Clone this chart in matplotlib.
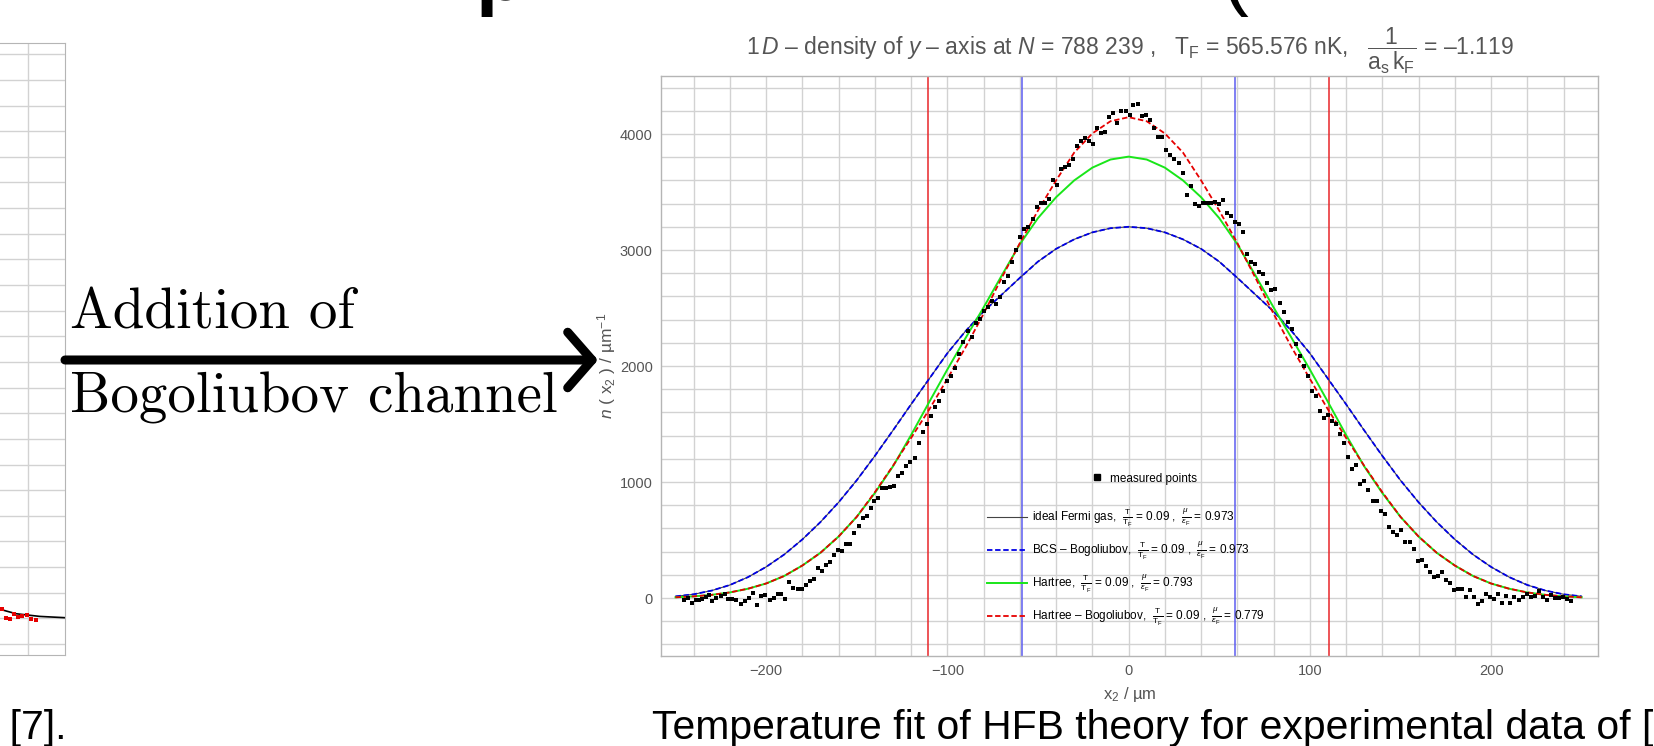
import matplotlib.pyplot as plt
from matplotlib.lines import Line2D
from matplotlib.patches import FancyArrowPatch

plt.rcParams['font.family'] = ['Liberation Sans', 'DejaVu Sans']
plt.rcParams['mathtext.fontset'] = 'custom'
plt.rcParams['mathtext.rm'] = 'Liberation Sans'
plt.rcParams['mathtext.it'] = 'Liberation Sans:italic'
plt.rcParams['mathtext.bf'] = 'Liberation Sans:bold'

x_fit = list(range(-250, 260, 10))
n_bcs = [14, 32, 64, 112, 180, 268, 375, 505, 655, 825, 1015, 1225, 1445, 1670, 1890, 2110, 2300, 2470, 2615, 2760,
         2900, 3010, 3092, 3152, 3188, 3200, 3188, 3152, 3092, 3010, 2900, 2760, 2615, 2470, 2300, 2110, 1890,
         1670, 1445, 1225, 1015, 825, 655, 505, 375, 268, 180, 112, 64, 32, 14]
n_hartree = [6, 14, 27, 48, 80, 125, 190, 280, 390, 530, 700, 905, 1135, 1405, 1690, 1970, 2240, 2505, 2780, 3050,
             3275, 3455, 3600, 3710, 3780, 3805, 3780, 3710, 3600, 3455, 3275, 3050, 2780, 2505, 2240, 1970, 1690,
             1405, 1135, 905, 700, 530, 390, 280, 190, 125, 80, 48, 27, 14, 6]
n_hb = [6, 14, 27, 48, 80, 125, 190, 280, 390, 530, 700, 912, 1140, 1380, 1625, 1890, 2160, 2450, 2760, 3060,
        3340, 3600, 3840, 4005, 4110, 4145, 4110, 4005, 3840, 3600, 3340, 3060, 2760, 2450, 2160, 1890, 1625,
        1380, 1140, 912, 700, 530, 390, 280, 190, 125, 80, 48, 27, 14, 6]

# measured density
x_meas = [-245.3, -243.1, -240.7, -238.9, -237.0, -235.4, -233.4, -231.7, -229.9, -227.5, -225.1, -222.9, -221.0,
          -218.8, -216.5, -214.1, -211.9, -209.7, -207.5, -205.1, -202.9, -200.5, -198.1, -195.9, -193.7, -191.6,
          -189.4, -187.2, -185.0, -182.6, -180.4, -178.2, -176.0, -173.8, -171.6, -169.2, -167.0, -164.8, -162.6,
          -160.4, -158.2, -156.0, -153.8, -151.6, -149.0, -146.8, -144.6, -142.4, -140.2, -138.0, -135.8, -133.6,
          -131.4, -129.4, -127.1, -124.9, -122.7, -120.5,
          -117.8, -115.6, -113.4, -111.2, -109.0, -106.8, -104.4, -102.2, -100.0, -97.8, -95.6, -93.4, -91.2,
          -88.8, -86.6, -84.4, -82.2, -79.9, -77.7, -75.5, -73.3, -71.0, -68.7, -66.5, -64.1, -61.9, -59.8, -57.5,
          -55.3, -53.0, -50.7, -48.5, -46.3, -44.1, -41.9, -39.7, -37.5, -35.3, -32.9, -30.7, -28.5, -26.3, -24.1,
          -21.9, -19.5, -17.3, -15.1, -12.9, -10.7, -8.5, -6.3, -4.1, -1.7, 0.5, 2.7, 5.3,
          7.5, 9.7, 11.9, 14.1, 16.5, 18.7, 20.9, 23.1, 25.3, 27.6, 29.8, 32.0, 34.2, 36.6, 38.8, 41.0, 43.2, 45.4,
          47.6, 49.8, 52.2, 54.4, 56.6, 58.8, 61.0, 63.2, 65.4, 67.6, 69.8, 72.2, 74.4, 76.6, 78.8, 81.0, 83.4,
          85.6, 87.8, 90.0, 92.2, 94.4, 96.7, 98.9, 101.1, 103.3, 105.7, 107.9, 110.1, 112.5, 114.7, 116.9, 119.1,
          121.3, 123.5, 125.7, 127.9, 130.1, 132.3,
          134.7, 136.9, 139.1, 141.3, 143.7, 145.9, 148.3, 150.5, 152.7, 155.1, 157.3, 159.5, 161.7, 163.9, 166.1,
          168.3, 170.5, 172.7, 174.9, 177.1, 179.5, 181.7, 183.9, 186.3, 188.5, 190.7, 192.9, 195.1, 197.3, 199.5,
          201.8, 204.0, 206.2, 208.4, 210.6, 212.8, 215.3, 217.6, 219.8, 222.0, 224.2, 226.4, 228.6, 230.8, 232.9,
          235.2, 237.4, 239.6, 241.8, 244.2]
n_meas = [-14, 0, -46, -20, -14, -9, 9, 29, -29, -3, 14, 35, -6,
          -9, -14, -49, -23, 0, 43, -58, 20, 26, -20, 0, 35, 38,
          -6, 136, 84, 81, 78, 110, 147, 165, 260, 237, 283, 309, 369,
          418, 401, 462, 462, 557, 618, 693, 707, 773, 834, 863, 944, 949,
          961, 967, 1056, 1076, 1134, 1169,
          1207, 1334, 1432, 1501, 1571, 1643, 1701, 1781, 1868, 1911, 1983, 2102, 2211,
          2298, 2249, 2373, 2405, 2477, 2506, 2564, 2535, 2598, 2725, 2777, 2898, 2999, 3112, 3178,
          3196, 3265, 3369, 3403, 3409, 3441, 3602, 3562, 3701, 3718, 3732, 3787, 3897, 3937, 3963,
          3943, 3914, 4053, 4006, 4018, 4145, 4180, 4099, 4197, 4197, 4168, 4249, 4255,
          4159, 4168, 4122, 4053, 3972, 3972, 3862, 3816, 3781, 3747, 3660, 3475, 3550, 3395, 3377, 3403, 3403, 3403,
          3412, 3400, 3429, 3322, 3297, 3239, 3224, 3152, 2962, 2895, 2878, 2812, 2794, 2714, 2656, 2667, 2546,
          2465, 2379, 2315, 2191, 2090, 1998, 1911, 1787, 1744, 1611, 1556, 1577, 1522, 1499, 1415, 1340,
          1219, 1115, 1144, 985, 1005, 927,
          835, 832, 754, 725, 609, 572, 546, 584, 482, 480, 422, 321, 327, 278, 223,
          185, 191, 220, 156, 128, 70, 81, 78, 12, 70, 12, -51, -23, 35, 6,
          -5, 35, -40, 18, -40, 6, -17, 12, 35, 6, 18, 58, 6, -17, 23,
          -3, -3, 12, -11, -28]

# Thomas-Fermi radii marked in the plot
r_hb = 110.5
r_bcs = 58.7

# fragment of the neighbouring chart on the left
x_left = [225, 233.7, 246.5, 260]
n_left = [71, 36, 15, 5]
x_left_pts = [226.2, 228.3, 230.4, 232.5, 234.6, 236.7, 239.5, 242.0, 244.2]
n_left_pts = [71, 4, -3, 34, 8, 15, 27, -3, -15]

grey = '#555555'
gridc = '#d2d2d2'

fig = plt.figure(figsize=(16.54, 7.46), dpi=100)

# ---------------- main chart
ax = fig.add_axes([661/1654, 90/746, 937/1654, 580/746])
ax.set_xlim(-258, 259)
ax.set_ylim(-500, 4500)
ax.set_xticks([-200, -100, 0, 100, 200])
ax.set_xticks(range(-240, 260, 20), minor=True)
ax.set_yticks([0, 1000, 2000, 3000, 4000])
ax.set_yticks(range(-400, 4500, 200), minor=True)
ax.grid(which='both', color=gridc, lw=1.0)
ax.set_axisbelow(True)
ax.tick_params(which='both', length=0, labelsize=10.5, labelcolor=grey, pad=6)
for s in ax.spines.values():
    s.set_color('#b5b5b5')
    s.set_linewidth(1.0)

for xv in (-r_hb, r_hb):
    ax.axvline(xv, color='#e8262a', lw=1.1)
for xv in (-r_bcs, r_bcs):
    ax.axvline(xv, color='#5c5cf0', lw=1.1)

ax.plot(x_fit, n_bcs, color='#444444', lw=0.8)
ax.plot(x_fit, n_bcs, color='#0000e6', lw=1.3, dashes=(3, 1.5))
ax.plot(x_fit, n_hartree, color='#19e619', lw=1.4)
ax.plot(x_fit, n_hb, color='#e60000', lw=1.3, dashes=(3, 1.5))
ax.plot(x_meas, n_meas, 's', color='black', ms=3.2, mew=0)

ax.set_xlabel('x$_2$ / µm', color=grey, fontsize=12, labelpad=5)
ax.set_ylabel('$n$ ( x$_2$ ) / µm$^{-1}$', color=grey, fontsize=12.5, labelpad=1)
ax.set_title(r'1$\,D$ – density of $y$ – axis at $N$ = 788 239 ,   T$_\mathrm{F}$ = 565.576 nK,   '
             r'$\dfrac{1}{\mathrm{a_s\,k_F}}$ = –1.119', color=grey, fontsize=16.5, pad=6)

pts_handle = Line2D([], [], marker='s', ls='none', color='black', ms=4)
leg1 = ax.legend([pts_handle], ['measured points'], loc='center left', bbox_to_anchor=(0.453, 0.306),
                 frameon=False, fontsize=8.5, handlelength=1.0, handletextpad=0.6, borderpad=0)
ax.add_artist(leg1)

frac = r'$\frac{\mathrm{T}}{\mathrm{T_F}}$ = 0.09 ,  $\frac{\mu}{\varepsilon_\mathrm{F}}$ = '
line_handles = [Line2D([], [], color='#444444', lw=0.8),
                Line2D([], [], color='#0000e6', lw=1.3, dashes=(3, 1.5)),
                Line2D([], [], color='#19e619', lw=1.4),
                Line2D([], [], color='#e60000', lw=1.3, dashes=(3, 1.5))]
line_labels = ['ideal Fermi gas,  ' + frac + '0.973',
               'BCS – Bogoliubov,  ' + frac + '0.973',
               'Hartree,  ' + frac + '0.793',
               'Hartree – Bogoliubov,  ' + frac + '0.779']
ax.legend(line_handles, line_labels, loc='upper left', bbox_to_anchor=(0.342, 0.268),
          frameon=False, fontsize=8.5, handlelength=3.4, handletextpad=0.4, borderpad=0, labelspacing=0.9)

# ---------------- cut-off chart on the left
axl = fig.add_axes([0, 91/746, 65/1654, 612/746])
axl.set_xlim(225.1, 260)
axl.set_ylim(-286, 4488)
axl.set_xticks([240])
axl.set_yticks(range(-200, 4500, 200))
axl.grid(color=gridc, lw=1.0)
axl.tick_params(length=0, labelbottom=False, labelleft=False)
axl.spines['left'].set_visible(False)
for s in ('top', 'right', 'bottom'):
    axl.spines[s].set_color('#b5b5b5')
axl.plot(x_left, n_left, color='black', lw=1.2)
axl.plot(x_left_pts, n_left_pts, 's', color='#e60000', ms=3, mew=0)

# ---------------- slide text and arrow
fig.text(70/1654, 1 - 328.6/746, 'Addition of', family='cmr10', fontsize=41, va='baseline')
fig.text(70/1654, 1 - 413/746, 'Bogoliubov channel', family='cmr10', fontsize=41, va='baseline')
arrow = FancyArrowPatch((65/1654, 1 - 360/746), (598/1654, 1 - 360/746), transform=fig.transFigure,
                        arrowstyle='->,head_length=0.35,head_width=0.4', mutation_scale=50,
                        lw=6.5, color='black', shrinkA=0, shrinkB=0)
fig.add_artist(arrow)

fig.text(652/1654, 1 - 739/746, 'Temperature fit of HFB theory for experimental data of [7].',
         fontsize=29.4, va='baseline')
fig.text(66/1654, 1 - 739/746, 'of [7].', fontsize=29.4, va='baseline', ha='right')

# bits of the big heading cut off by the top edge
fig.text(476/1654, 1.0, 'p', fontsize=58, fontweight='bold', va='baseline')
fig.text(1222/1654, 1.0, '(', fontsize=58, va='baseline')

fig.savefig('out.png', dpi=100)
